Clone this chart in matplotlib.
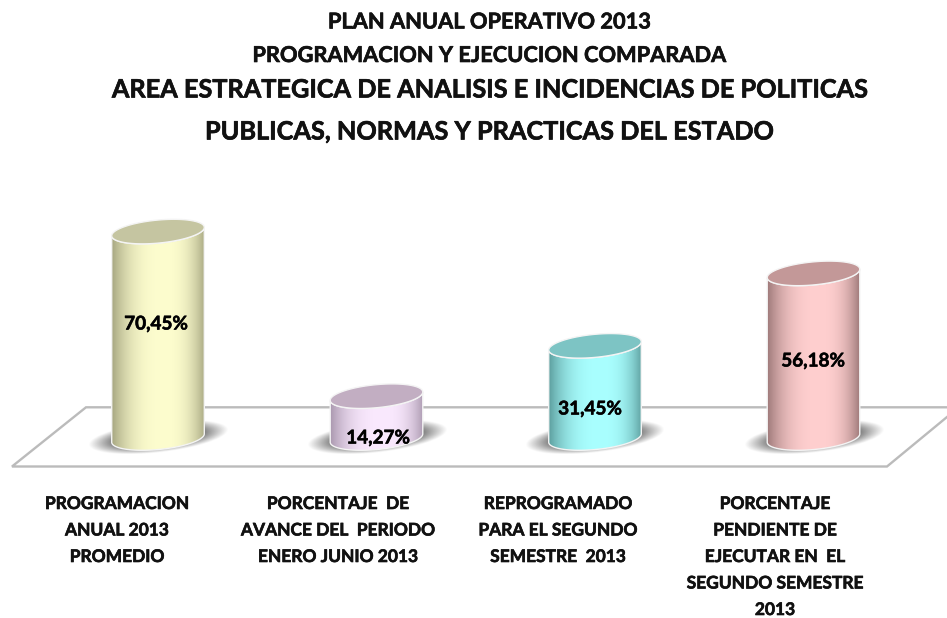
import numpy as np
import matplotlib
matplotlib.use("Agg")
import matplotlib.pyplot as plt
import matplotlib.patheffects as pe
from matplotlib.path import Path
from matplotlib.patches import PathPatch
from matplotlib.colors import to_rgb

categories = ["PROGRAMACION\nANUAL 2013\nPROMEDIO",
              "PORCENTAJE  DE\nAVANCE DEL  PERIODO\nENERO JUNIO 2013",
              "REPROGRAMADO\nPARA EL SEGUNDO\nSEMESTRE  2013",
              "PORCENTAJE\nPENDIENTE DE\nEJECUTAR EN  EL\nSEGUNDO SEMESTRE\n2013"]
values = [70.45, 14.27, 31.45, 56.18]
light_colors = ["#FDFDCE", "#FAE9FE", "#A9FFFF", "#FFCFCF"]
edge_colors = ["#A3A37E", "#A593AA", "#5A9B9B", "#987474"]
cap_colors = ["#C5C5A1", "#C2AEC2", "#7DC4C4", "#C39898"]
titles = ["PLAN ANUAL OPERATIVO 2013", "PROGRAMACION Y EJECUCION COMPARADA",
          "AREA ESTRATEGICA DE ANALISIS E INCIDENCIAS DE POLITICAS",
          "PUBLICAS, NORMAS Y PRACTICAS DEL ESTADO"]

W, H = 947, 618
X0, DX = 158.0, 218.5      # pixel of category 0, pixels per category
Y0, DY = 438.0, 2.93       # pixel of value 0, pixels per percent
HALF_W, HALF_H, TILT = 46.5, 11.5, np.radians(5.5)

plt.rcParams["font.family"] = ["Lato", "DejaVu Sans"]
fig = plt.figure(figsize=(W / 100, H / 100), dpi=100)
ax = fig.add_axes([0, 0, 1, 1])
ax.axis("off")
xlim = (-X0 / DX, (W - X0) / DX)
ylim = ((Y0 - H) / DY, Y0 / DY)
heavy = [pe.withStroke(linewidth=0.45, foreground="#111111")]


def dx(px):
    return px / DX


def dy(px):
    return px / DY


def ell(cx, val, t):
    """Point on the tilted ellipse round a cylinder end, in data units."""
    ex = HALF_W * np.cos(t)
    ey = HALF_H * np.sin(t)
    px = ex * np.cos(TILT) - ey * np.sin(TILT)
    py = ex * np.sin(TILT) + ey * np.cos(TILT)
    return cx + dx(px), val + dy(py)


# floor (pixel-located frame converted to data units)
floor_x = np.array([947, 86, 12, 887, 947])
floor_y = np.array([407.3, 407.3, 466.5, 466.5, 417])
ax.plot((floor_x - X0) / DX, (Y0 - floor_y) / DY, color="#BBBBBB", lw=1.7, zorder=1,
        solid_joinstyle="miter")

for i, v in enumerate(values):
    # blurred contact shadow
    sx = np.linspace(-78, 78, 220)
    sy = np.linspace(-26, 26, 90)
    gx, gy = np.meshgrid(sx, sy)
    a = np.radians(6.5)
    ux = gx * np.cos(a) + gy * np.sin(a)
    uy = -gx * np.sin(a) + gy * np.cos(a)
    r = np.sqrt((ux / 70) ** 2 + (uy / 15.5) ** 2)
    rgba = np.zeros(gx.shape + (4,))
    rgba[..., :3] = 0.42
    rgba[..., 3] = np.clip((1 - r) * 2.6, 0, 1) * 0.95
    ax.imshow(rgba, extent=(i + dx(-78), i + dx(78), dy(1 - 26), dy(1 + 26)),
              origin="lower", aspect="auto", zorder=2, interpolation="bilinear")

    # body with a horizontal gradient, clipped to the cylinder outline
    t_low = np.linspace(np.pi, 2 * np.pi, 80)
    t_top = np.linspace(0, -np.pi, 80)
    bx, by = ell(i, 0, t_low)
    tx, ty = ell(i, v, t_top)
    verts = np.column_stack([np.r_[bx, tx], np.r_[by, ty]])
    outline = PathPatch(Path(np.vstack([verts, verts[0]]), closed=True), transform=ax.transData,
                        fc="none", ec="#F4F4F4", lw=1.0, zorder=4)
    u = np.linspace(0, 1, 256)
    w = np.clip(np.abs(u - 0.56) / np.where(u < 0.56, 0.56, 0.44), 0, 1) ** 2.6
    c0, c1 = np.array(to_rgb(light_colors[i])), np.array(to_rgb(edge_colors[i]))
    grad = (c0[None, :] * (1 - w[:, None]) + c1[None, :] * w[:, None])[None, :, :]
    im = ax.imshow(grad, extent=(i + dx(-HALF_W - 1), i + dx(HALF_W + 1), -5, v + 5),
                   aspect="auto", zorder=3, interpolation="bilinear")
    clip = PathPatch(outline.get_path(), transform=ax.transData, fc="none", ec="none")
    ax.add_patch(clip)
    im.set_clip_path(clip)
    ax.add_patch(outline)

    # top cap
    t = np.linspace(0, 2 * np.pi, 160)
    cx, cy = ell(i, v, t)
    ax.fill(cx, cy, fc=cap_colors[i], ec="#F4F4F4", lw=1.0, zorder=5)

# value labels
label_offsets = [-2, 1.5, -5, -0.5]
label_heights = [324, 438, 409, 361]
for i, v in enumerate(values):
    ax.text(i + dx(label_offsets[i]), (Y0 - label_heights[i]) / DY,
            f"{v:.2f}%".replace(".", ","), ha="center", va="center",
            fontsize=13.6, fontweight="bold", color="black", zorder=6,
            path_effects=heavy)

# category labels
label_x = [117, 338, 558, 775]
line_gap = 26.5
for i, lab in enumerate(categories):
    for j, line in enumerate(lab.split("\n")):
        ax.text((label_x[i] - X0) / DX, (Y0 - (504 + j * line_gap)) / DY, line,
                ha="center", va="center", fontsize=12.5, fontweight="bold",
                color="#111111", path_effects=heavy)

# titles
title_y = [22, 55.5, 90, 132]
title_size = [15.7, 15.7, 18.2, 18.2]
for s, y, fs in zip(titles, title_y, title_size):
    fig.text(489 / W, 1 - y / H, s, ha="center", va="center", fontsize=fs,
             fontweight="bold", color="#111111", path_effects=heavy)

ax.set_xlim(*xlim)
ax.set_ylim(*ylim)
fig.savefig("out.png", dpi=100, facecolor="white")
